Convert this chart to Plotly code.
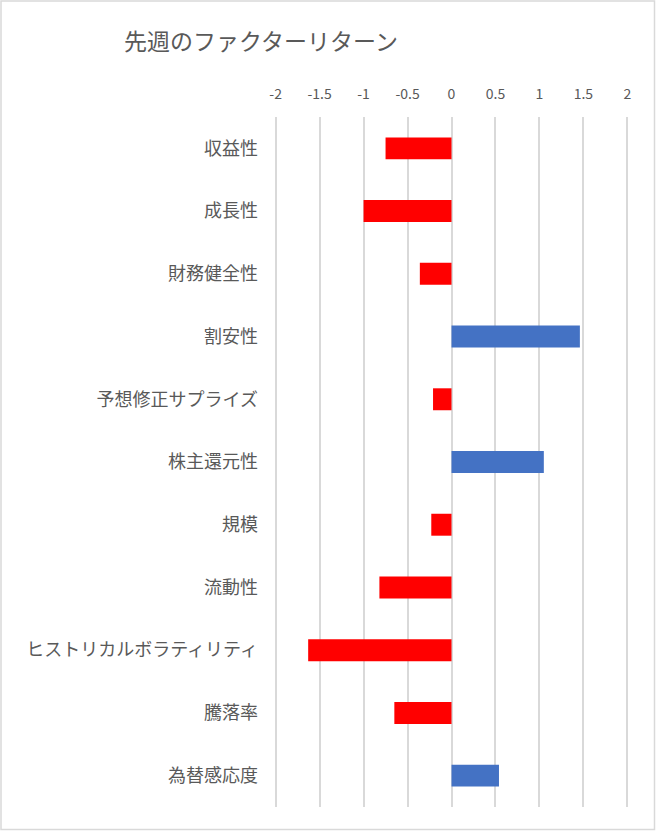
import plotly.graph_objects as go

title = "先週のファクターリターン"
categories = ["収益性", "成長性", "財務健全性", "割安性", "予想修正サプライズ", "株主還元性",
              "規模", "流動性", "ヒストリカルボラティリティ", "騰落率", "為替感応度"]
values = [-0.75, -1.00, -0.36, 1.46, -0.21, 1.05, -0.23, -0.82, -1.63, -0.65, 0.54]
tick_vals = [-2, -1.5, -1, -0.5, 0, 0.5, 1, 1.5, 2]
tick_text = ["-2", "-1.5", "-1", "-0.5", "0", "0.5", "1", "1.5", "2"]

POS = "#4472C4"
NEG = "#FF0000"
TXT = "#595959"
GRID = "#D9D9D9"
FONT = "Noto Sans CJK JP"

W, H = 656, 831
ml, mr, mt, mb = 273, 26, 117, 24
pw, ph = W - ml - mr, H - mt - mb

fig = go.Figure(go.Bar(
    y=categories, x=values, orientation="h",
    marker=dict(color=[POS if v >= 0 else NEG for v in values], line=dict(width=0)),
    hoverinfo="x+y",
))

fig.update_layout(
    width=W, height=H,
    margin=dict(l=ml, r=mr, t=mt, b=mb),
    paper_bgcolor="white", plot_bgcolor="white",
    bargap=0.65,
    showlegend=False,
    font=dict(family=FONT, color=TXT),
    title=dict(text=title, x=261 / W, xanchor="center", y=1 - 42 / H, yanchor="middle",
               xref="container", yref="container",
               font=dict(family=FONT, size=23, color=TXT)),
    shapes=[dict(type="rect", xref="paper", yref="paper",
                 x0=(1 - ml) / pw, x1=(W - 1.5 - ml) / pw,
                 y0=(1.5 - mb) / ph, y1=(H - 1 - mb) / ph,
                 line=dict(color=GRID, width=1.5), fillcolor="rgba(0,0,0,0)", layer="below")],
)

fig.update_xaxes(
    side="top", range=[-2.03, 2.03], tickvals=tick_vals, ticktext=tick_text,
    showgrid=True, gridcolor=GRID, gridwidth=1.5, zeroline=False, showline=False,
    ticks="", ticklabelstandoff=14, tickfont=dict(family=FONT, size=14, color=TXT),
    fixedrange=True,
)
fig.update_yaxes(
    type="category", categoryorder="array", categoryarray=categories,
    autorange="reversed", showgrid=False, zeroline=False, showline=False, ticks="",
    ticklabelstandoff=14, tickfont=dict(family=FONT, size=18, color=TXT),
    fixedrange=True,
)

fig.write_html("out.html", config={"displayModeBar": False},
               post_script="document.body.style.margin='0';")
